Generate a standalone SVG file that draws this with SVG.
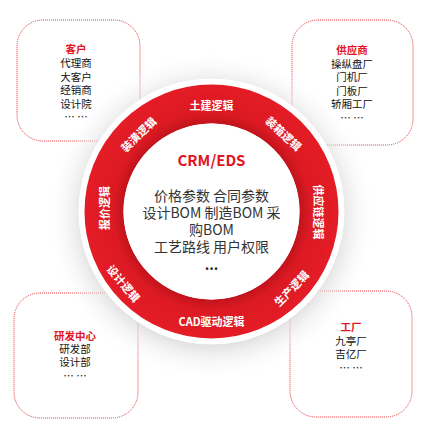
<svg xmlns="http://www.w3.org/2000/svg" width="422" height="429" viewBox="0 0 422 429">
  <defs>
    <radialGradient id="shadow" cx="211.5" cy="216" r="165" gradientUnits="userSpaceOnUse">
      <stop offset="0.75" stop-color="#d2d2d2" stop-opacity="0.85"/>
      <stop offset="0.86" stop-color="#e8e8e8" stop-opacity="0.5"/>
      <stop offset="1" stop-color="#ffffff" stop-opacity="0"/>
    </radialGradient>
    <radialGradient id="ringGrad" cx="211.5" cy="211.5" r="127" gradientUnits="userSpaceOnUse">
      <stop offset="0.69" stop-color="#c0131c"/>
      <stop offset="0.78" stop-color="#dc1a23"/>
      <stop offset="1" stop-color="#e41c25"/>
    </radialGradient>
    <style>
      .box { fill: #ffffff; stroke: #e5323a; stroke-width: 1; stroke-dasharray: 1 1; }
      .t { font-family: "Noto Sans CJK SC", "Noto Sans", sans-serif; font-size: 10.5px; fill: #111; text-anchor: middle; }
      .h { fill: #e3141f; font-weight: bold; }
      .ring { font-family: "Noto Sans CJK SC", "Noto Sans", sans-serif; font-size: 11px; font-weight: bold; fill: #ffffff; text-anchor: middle; dominant-baseline: central; }
      .c { font-family: "Noto Sans CJK SC", "Noto Sans", sans-serif; font-size: 14px; fill: #333; text-anchor: middle; }
    </style>
  </defs>
  <rect width="422" height="429" fill="#ffffff"/>

  <g id="box-customer">
    <rect class="box" x="17" y="20" width="123" height="121" rx="26"/>
    <text class="t h" x="76" y="53">客户</text>
    <text class="t" x="76" y="67">代理商<tspan x="76" y="80.5">大客户</tspan><tspan x="76" y="94">经销商</tspan><tspan x="76" y="107.5">设计院</tspan><tspan x="76" y="121">… …</tspan></text>
  </g>
  <g id="box-supplier">
    <rect class="box" x="292" y="20" width="121" height="125" rx="26"/>
    <text class="t h" x="352" y="54">供应商</text>
    <text class="t" x="352" y="67.5">操纵盘厂<tspan x="352" y="81">门机厂</tspan><tspan x="352" y="94.5">门板厂</tspan><tspan x="352" y="108">轿厢工厂</tspan><tspan x="352" y="121.5">… …</tspan></text>
  </g>
  <g id="box-rd">
    <rect class="box" x="14" y="293" width="124" height="125" rx="26"/>
    <text class="t h" x="75" y="340">研发中心</text>
    <text class="t" x="75" y="353">研发部<tspan x="75" y="366">设计部</tspan><tspan x="75" y="380">… …</tspan></text>
  </g>
  <g id="box-factory">
    <rect class="box" x="290" y="291" width="122" height="126" rx="26"/>
    <text class="t h" x="351" y="331">工厂</text>
    <text class="t" x="351" y="344.5">九亭厂<tspan x="351" y="358">吉亿厂</tspan><tspan x="351" y="372">… …</tspan></text>
  </g>

  <g id="ring">
    <circle cx="211.5" cy="216" r="165" fill="url(#shadow)"/>
    <circle cx="211.5" cy="211.5" r="133" fill="#ffffff"/>
    <circle cx="211.5" cy="211.5" r="107.5" fill="none" stroke="url(#ringGrad)" stroke-width="39"/>
    <circle cx="211.5" cy="211.5" r="88" fill="#ffffff"/>
    <text class="ring" transform="translate(211.5,105)">土建逻辑</text>
    <text class="ring" transform="translate(284,133) rotate(43)">装箱逻辑</text>
    <text class="ring" transform="translate(138,134) rotate(-44)">装潢逻辑</text>
    <text class="ring" transform="translate(104,208) rotate(-90)">报价逻辑</text>
    <text class="ring" transform="translate(124,283) rotate(50)">设计逻辑</text>
    <text class="ring" transform="translate(211.5,321)">CAD驱动逻辑</text>
    <text class="ring" transform="translate(291,288) rotate(-46)">生产逻辑</text>
    <text class="ring" transform="translate(319,212) rotate(90)">供应链逻辑</text>
  </g>

  <g id="center">
    <text class="c" x="211.5" y="166" style="fill:#e3141f;font-weight:bold;font-size:15px">CRM/EDS</text>
    <text class="c" x="211.5" y="201">价格参数 合同参数<tspan x="211.5" y="218">设计BOM 制造BOM 采</tspan><tspan x="211.5" y="235">购BOM</tspan><tspan x="211.5" y="252">工艺路线 用户权限</tspan><tspan x="211.5" y="270" style="font-weight:bold">...</tspan></text>
  </g>
  <g id="connectors"/>
</svg>
